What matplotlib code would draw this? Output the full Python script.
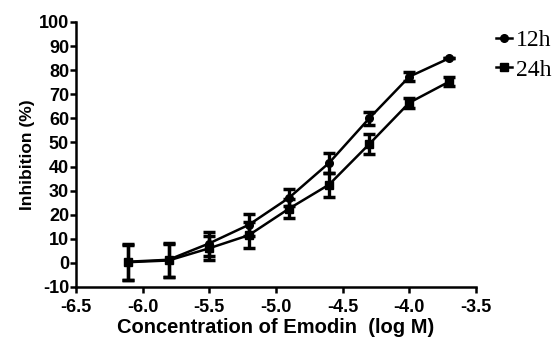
import matplotlib
matplotlib.use("Agg")
import matplotlib.pyplot as plt
from matplotlib.lines import Line2D

# log10 of emodin concentration (M), two-fold dilutions
log_conc = [-6.107, -5.806, -5.505, -5.204, -4.903, -4.602, -4.301, -4.0, -3.699]

inhib_12h = [0.5, 1.3, 8.0, 15.8, 27.0, 41.5, 60.0, 77.3, 85.0]
err_12h = [7.5, 7.0, 5.0, 4.5, 3.5, 4.0, 2.8, 1.8, 0.0]

inhib_24h = [0.3, 1.0, 6.0, 11.5, 22.5, 32.5, 49.3, 66.5, 75.3]
err_24h = [7.3, 6.8, 5.0, 5.5, 4.0, 5.0, 4.0, 2.0, 2.0]

x_ticks = [-6.5, -6.0, -5.5, -5.0, -4.5, -4.0, -3.5]
y_ticks = list(range(-10, 101, 10))

plt.rcParams['font.family'] = ['Liberation Sans', 'DejaVu Sans']
plt.rcParams['axes.unicode_minus'] = False

fig = plt.figure(figsize=(5.56, 3.41), dpi=100)
ax = fig.add_axes([0.1367, 0.1584, 0.7194, 0.7771])

ax.errorbar(log_conc, inhib_12h, yerr=err_12h, color='black', lw=1.8,
            marker='o', ms=5.5, capsize=4, capthick=2.5, elinewidth=2.4,
            zorder=3)
ax.errorbar(log_conc, inhib_24h, yerr=err_24h, color='black', lw=1.8,
            marker='s', ms=5.5, capsize=4, capthick=2.5, elinewidth=2.4,
            zorder=3)

ax.set_xlim(-6.5, -3.5)
ax.set_ylim(-10, 100)
ax.set_xticks(x_ticks)
ax.set_xticklabels([f"{t:.1f}" for t in x_ticks])
ax.set_yticks(y_ticks)

for s in ['top', 'right']:
    ax.spines[s].set_visible(False)
for s in ['left', 'bottom']:
    ax.spines[s].set_linewidth(1.8)
ax.tick_params(width=1.8, length=4, labelsize=13)
ax.tick_params(axis='x', pad=5)
ax.tick_params(axis='y', pad=1)
for lab in ax.get_xticklabels() + ax.get_yticklabels():
    lab.set_fontweight('bold')

ax.set_xlabel('Concentration of Emodin  (log M)', fontsize=14.5,
              fontweight='bold', labelpad=1)
ax.set_ylabel('Inhibition (%)', fontsize=12.5, fontweight='bold', labelpad=3)

handles = [Line2D([], [], color='black', lw=1.8, marker='o', ms=5.5),
           Line2D([], [], color='black', lw=1.8, marker='s', ms=5.5)]
fig.legend(handles, ['12h', '24h'], loc='upper left',
           bbox_to_anchor=(0.892, 0.914), frameon=False, handlelength=0.7,
           handletextpad=0.15, labelspacing=0.35, borderaxespad=0,
           borderpad=0, prop={'family': 'Liberation Serif', 'size': 17})

fig.savefig('out.png', dpi=100)
